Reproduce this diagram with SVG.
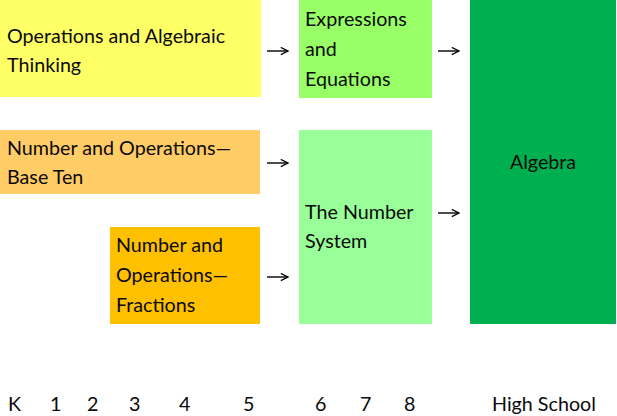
<svg xmlns="http://www.w3.org/2000/svg" width="617" height="416" viewBox="0 0 617 416">
<style>
text{font-family:Lato,"Open Sans","Liberation Sans",sans-serif;font-size:19.7px;fill:#0a0a0a}
.c path{fill:none;stroke:#000;stroke-width:1.4}
</style>
<defs>
<marker id="ah" viewBox="0 0 10 10" refX="9" refY="5" markerWidth="9" markerHeight="9" markerUnits="userSpaceOnUse" orient="auto"><path d="M1,1 L9,5 L1,9" fill="none" stroke="#000" stroke-width="1.4"/></marker>
</defs>
<rect width="617" height="416" fill="#fff"/>
<g id="oa"><rect x="0" y="0" width="261" height="97" fill="#FFFF66"/><text><tspan x="7" y="43">Operations and Algebraic</tspan><tspan x="7" y="72">Thinking</tspan></text></g>
<g id="ee"><rect x="299" y="0" width="133" height="98" fill="#99FF66"/><text><tspan x="305" y="26">Expressions</tspan><tspan x="305" y="56">and</tspan><tspan x="305" y="86">Equations</tspan></text></g>
<g id="nbt"><rect x="0" y="130" width="260" height="64" fill="#FFCC66"/><text><tspan x="7" y="155">Number and Operations—</tspan><tspan x="7" y="184">Base Ten</tspan></text></g>
<g id="nf"><rect x="110" y="227" width="150" height="97" fill="#FFC000"/><text><tspan x="116" y="252">Number and</tspan><tspan x="116" y="282">Operations—</tspan><tspan x="116" y="312">Fractions</tspan></text></g>
<g id="ns"><rect x="299" y="130" width="133" height="194" fill="#99FF99"/><text><tspan x="305" y="219">The Number</tspan><tspan x="305" y="248">System</tspan></text></g>
<g id="alg"><rect x="470" y="0" width="146" height="324" fill="#00B050"/><text x="543" y="169" text-anchor="middle">Algebra</text></g>
<g class="c" id="connectors">
<path d="M267,51 H288" marker-end="url(#ah)"/>
<path d="M438,51 H459" marker-end="url(#ah)"/>
<path d="M267,163 H288" marker-end="url(#ah)"/>
<path d="M267,277 H288" marker-end="url(#ah)"/>
<path d="M438,213 H459" marker-end="url(#ah)"/>
</g>
<g id="axis">
<text x="8" y="411">K</text>
<text x="50" y="411">1</text>
<text x="87" y="411">2</text>
<text x="129" y="411">3</text>
<text x="179" y="411">4</text>
<text x="243" y="411">5</text>
<text x="315" y="411">6</text>
<text x="360" y="411">7</text>
<text x="404" y="411">8</text>
<text x="492" y="411">High School</text>
</g>
</svg>
